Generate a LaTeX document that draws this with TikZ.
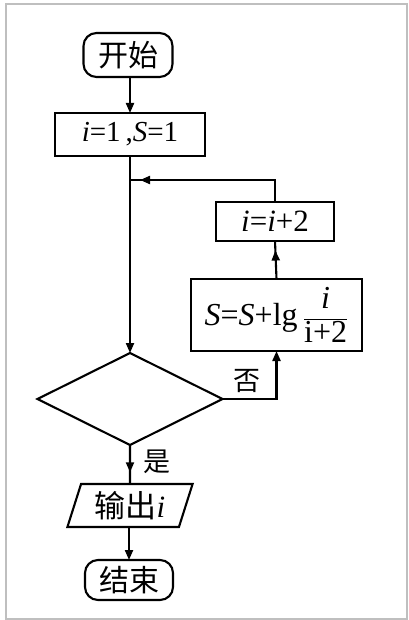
\documentclass[tikz,border=0pt]{standalone}
\usepackage{fontspec}
\setmainfont{Liberation Serif}
\newfontfamily\cjk{Noto Sans CJK SC}
\usetikzlibrary{arrows.meta,shapes.geometric,decorations.markings}

\begin{document}
\begin{tikzpicture}[x=1pt,y=-1pt,
  line width=2.1pt,
  every node/.style={inner sep=0pt, outer sep=0pt},
  box/.style={draw, rectangle, align=center, font=\fontsize{29}{32}\selectfont},
  term/.style={draw, rectangle, rounded corners=13pt, font=\cjk\fontsize{30}{32}\selectfont},
  decide/.style={draw, diamond, aspect=2},
  io/.style={draw, trapezium, trapezium left angle=71, trapezium right angle=109,
    trapezium stretches=true, font=\fontsize{31}{32}\selectfont},
  lbl/.style={font=\cjk\fontsize{27}{30}\selectfont},
  tip/.style={-{Triangle[width=8pt,length=10pt]}},
  midtip/.style={decoration={markings,
      mark=at position #1 with {\arrow{Triangle[width=8pt,length=10pt]}}},
    postaction={decorate}},
]
  \useasboundingbox (0,0) rectangle (408,620);
  % outer frame
  \draw[line width=1.2pt, black!25] (6,4) rectangle (407,619);

  % blocks
  \node[term, minimum width=89pt, minimum height=44pt] (start) at (128,55) {开始};
  \node[box, minimum width=150pt, minimum height=43pt] (init) at (130,134.5)
    {\textit{i}=1\,,\textit{S}=1};
  \node[box, minimum width=118pt, minimum height=39pt, font=\fontsize{31}{34}\selectfont]
    (inc) at (275,221.5) {\textit{i}=\textit{i}+2};
  \node[box, minimum width=171pt, minimum height=72pt, font=\fontsize{32}{36}\selectfont]
    (upd) at (276.5,315)
    {\textit{S}=\textit{S}+lg\,$\displaystyle\frac{\textit{i}}{\textrm{i+2}}$};
  \node[decide, minimum width=185pt, minimum height=92pt] (dec) at (130,399) {};
  \node[io, minimum width=126pt, minimum height=43pt] (out) at (130,505.5)
    {{\cjk 输出}\textit{i}};
  \node[term, minimum width=88pt, minimum height=40pt] (stop) at (129,580) {结束};

  % connectors
  \coordinate (join) at (130,180);
  \draw[tip] (init.north |- start.south) -- (init.north);
  \draw[tip] (init.south) -- (dec.north);
  \draw[tip] (dec.east) -| (upd.south);
  \draw[midtip=0.75] (upd.north) -- (inc.south);
  \draw[midtip=0.94] (inc.north) |- (join);
  \draw[midtip=0.7] (dec.south) -- (out.north);
  \draw[tip] (out.south -| stop.north) -- (stop.north);

  % branch labels
  \node[lbl] (no) at (247,381) {否};
  \node[lbl] (yes) at (157,462) {是};
\end{tikzpicture}
\end{document}
